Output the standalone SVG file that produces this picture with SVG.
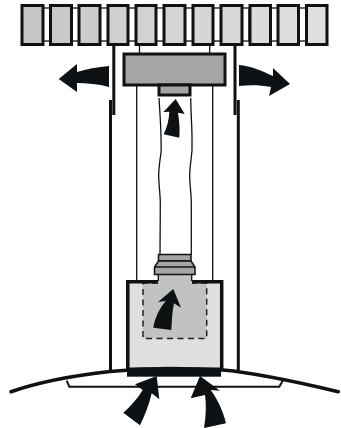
<svg xmlns="http://www.w3.org/2000/svg" width="341" height="428" viewBox="0 0 341 428">
<style>
.blk{stroke:#111;stroke-width:3}
.link{fill:#fff;stroke:#111;stroke-width:1.300}
.thin{fill:none;stroke:#111;stroke-width:1.300}
.thick{fill:none;stroke:#111;stroke-width:3}
.arrow{fill:#0d1114}
.dark{fill:#a3a6a4;stroke:#111;stroke-width:3}
</style>
<g id="wall">
<rect class="link" x="43" y="8" width="7" height="33"/><rect class="link" x="72" y="8" width="7" height="33"/><rect class="link" x="100" y="8" width="8" height="33"/><rect class="link" x="128" y="8" width="8" height="33"/><rect class="link" x="156" y="8" width="8" height="33"/><rect class="link" x="185" y="8" width="8" height="33"/><rect class="link" x="213" y="8" width="8" height="33"/><rect class="link" x="242" y="8" width="7" height="33"/><rect class="link" x="271" y="8" width="7" height="33"/><rect class="link" x="299" y="8" width="7" height="33"/>
<rect class="blk" x="22" y="5.500" width="21" height="39" fill="#c5c7c5"/>
<rect class="blk" x="50.500" y="5.500" width="21" height="39" fill="#c8cac8"/>
<rect class="blk" x="79" y="5.500" width="21" height="39" fill="#cbcdcb"/>
<rect class="blk" x="108" y="5.500" width="20" height="39" fill="#cfd1cf"/>
<rect class="blk" x="136" y="5.500" width="20" height="39" fill="#d1d3d1"/>
<rect class="blk" x="164" y="5.500" width="21" height="39" fill="#d3d5d3"/>
<rect class="blk" x="193" y="5.500" width="20" height="39" fill="#d5d7d5"/>
<rect class="blk" x="221" y="5.500" width="21" height="39" fill="#d7d8d7"/>
<rect class="blk" x="250" y="5.500" width="20.500" height="39" fill="#dadbda"/>
<rect class="blk" x="278" y="5.500" width="20.500" height="39" fill="#dcdddc"/>
<rect class="blk" x="306.500" y="5.500" width="20.500" height="39" fill="#dedfde"/>
</g>
<g id="chimney">
<path class="thick" d="M113.800 45V115M235 45V115"/>
<path class="thick" d="M110.500 100V370M238.300 100V370"/>
<path class="thin" d="M139.500 45V53M209.700 45V53"/>
<path class="thin" d="M136.700 86V281M212.700 86V281"/>
</g>
<g id="fan">
<rect class="dark" x="124" y="54" width="101" height="31"/>
<rect class="dark" x="159" y="85" width="31" height="10"/>
</g>
<g id="hose">
<path class="thin" d="M159 98C160 115 161 128 161 137C161 145 161.500 150 161 153C160 160 158.500 168 158.700 177C159 187 160.300 195 160.300 203C160.300 220 160 235 160 255"/>
<path class="thin" d="M190.700 98C191 115 192 128 192 137C192 143 192 147 192 150C191.500 158 189.500 168 189.700 177C190 187 191.300 195 191.300 203C191.300 220 191.300 235 191.300 255"/>
</g>
<g id="filter">
<path d="M127 281H158V275H192V281H223V369H127Z" fill="#dfdfdf"/>
<path d="M143 283H158V275H192V283H206.700V338.500H143Z" fill="#c1c3c1"/>
<path d="M158 283H143V338.500H206.700V283H192" fill="none" stroke="#222" stroke-width="1.500" stroke-dasharray="6 4.500"/>
<path fill="none" stroke="#111" stroke-width="3.500" d="M158 281.700H127.800V370M192 281.700H221.700V370"/>
<path d="M158.300 281V274M191.700 281V274" stroke="#111" stroke-width="1.300"/>
<path d="M158.500 254.500H191V261H158.500Z" fill="#a3a6a4" stroke="#111" stroke-width="1.500"/>
<path d="M158.500 261H191L195 267V274.500H154.500V267Z" fill="#a3a6a4" stroke="#111" stroke-width="1.500"/>
<path d="M154.500 267H195" stroke="#111" stroke-width="1.500"/>
</g>
<g id="hood">
<path d="M66.700 380.700L69.300 386.700H279.300L282.700 380.700" fill="#fff" stroke="#111" stroke-width="2"/>
<path d="M11 391.700C42 381 78 375 110 371.500C130 369.500 150 368.500 170 368.500C190 368.500 205 369 223 370C245 372 285 379 338.300 391.700" fill="none" stroke="#111" stroke-width="3.600" stroke-linecap="round"/>
<rect x="127" y="367.500" width="94" height="9.200" fill="#0d1114"/>
</g>
<g id="connectors">
<path class="arrow" d="M109 66C97 67 87 69 77 72L77 64L58.700 79L77 92L77 83C87 83 98 84 109 87Z"/>
<path class="arrow" d="M239 65C251 66 262 71 273 76L273 68L290 84L269 96L271 87C260 85 250 85 239 86Z"/>
<path class="arrow" d="M163.700 134.300C167 127 169 120 169.300 111.700L163.300 112L175.700 99L184.700 114L178 112.700C179.500 122 180 130 179.300 137.700Z"/>
<path class="arrow" d="M153.300 327.700C155 317 160 308 165.700 301L158 302L173.300 289L181 307.700L174 303.300C172 312 172 321 171.300 330Z"/>
<path class="arrow" d="M123.300 412.700C131 406 138 398 142.700 390L135 384.300L156.700 376L159.300 399.300L151.700 393.300C149 405 145 415 140 425.300Z"/>
<path class="arrow" d="M204 428C206 416 206.500 405 205 395L190.700 398.300L200 376L220 390.700L210.700 390C218 400 223 411 226 423.300Z"/>
</g>
</svg>
